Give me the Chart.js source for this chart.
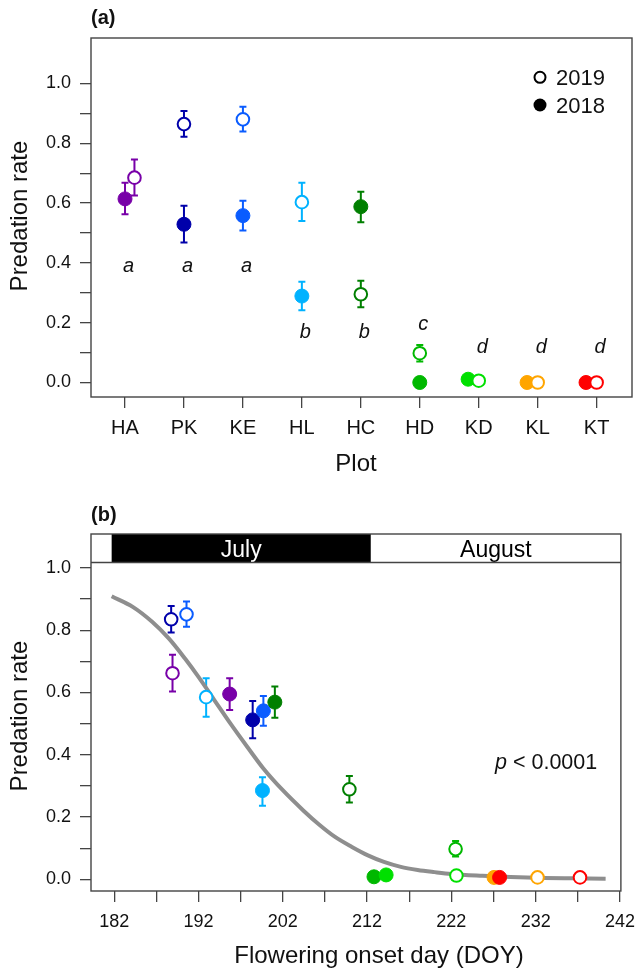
<!DOCTYPE html>
<html><head><meta charset="utf-8">
<script src="https://cdn.jsdelivr.net/npm/chart.js@4/dist/chart.umd.min.js"></script>
<style>
html,body{margin:0;padding:0;background:#fff;}
#wrap{position:relative;width:644px;height:970px;overflow:hidden;background:#fff;}
canvas{position:absolute;left:0;}
</style></head><body>
<div id="wrap">
<canvas id="chartA" width="644" height="490" style="top:0px"></canvas>
<canvas id="chartB" width="644" height="480" style="top:490px"></canvas>
</div>
<script>
// ---------- DATA ----------
const plots = ['HA','PK','KE','HL','HC','HD','KD','KL','KT'];
const plotColors = ['#7800A8','#0000AA','#0A5CFF','#00B2FF','#007F00','#00B800','#00E000','#FFA500','#FF0000'];

// Panel (a): predation rate per plot
const rate2018 = [0.614,0.529,0.558,0.289,0.588,0.000,0.011,0.000,0.000];
const lo2018   = [0.563,0.468,0.508,0.242,0.536,null,null,null,null];
const hi2018   = [0.668,0.591,0.608,0.337,0.638,null,null,null,null];
const rate2019 = [0.685,0.864,0.880,0.603,0.295,0.098,0.006,0.000,0.000];
const lo2019   = [0.625,0.822,0.839,0.540,0.252,0.070,null,null,null];
const hi2019   = [0.746,0.908,0.922,0.668,0.340,0.125,null,null,null];
const sigLetters = ['a','a','a','b','b','c','d','d','d'];
const sigLetterY = [0.368,0.368,0.368,0.148,0.148,0.177,0.098,0.098,0.098];

// Panel (b): predation rate vs flowering onset day
const onset2018 = [195.7,198.43,199.7,199.59,201.06,212.82,214.26,227.06,227.72];
const rateB2018 = [0.595,0.512,0.541,0.285,0.569,0.008,0.014,0.006,0.006];
const loB2018   = [0.544,0.453,0.493,0.236,0.519,null,null,null,null];
const hiB2018   = [0.646,0.573,0.589,0.328,0.619,null,null,null,null];
const onset2019 = [188.92,188.76,190.58,192.91,209.9,222.5,222.6,232.22,237.26];
const rateB2019 = [0.662,0.835,0.851,0.585,0.289,0.097,0.012,0.006,0.006];
const loB2019   = [0.603,0.793,0.811,0.522,0.247,0.073,null,null,null];
const hiB2019   = [0.721,0.878,0.892,0.646,0.332,0.123,null,null,null];
const fitDOY  = [181.7,184.2,186.5,188.5,190.4,192.0,193.9,195.8,197.8,199.7,202.0,204.4,206.3,208.2,210.2,212.1,214.0,216.0,218.0,220.0,222.0,225.7,229.0,233.0,236.5,240.3];
const fitRate = [0.909,0.875,0.827,0.773,0.709,0.650,0.575,0.500,0.425,0.356,0.286,0.222,0.176,0.136,0.104,0.077,0.056,0.040,0.030,0.023,0.017,0.011,0.007,0.004,0.003,0.002];

const rateTicks = [0,0.1,0.2,0.3,0.4,0.5,0.6,0.7,0.8,0.9,1.0];
const doyTicks = [182,187,192,197,202,207,212,217,222,227,232,237,242];
const months = ['July','August'];
const monthStart = [181.7,212.45];
const monthEnd = [212.45,243.5];

// dodge offsets (category units) for overlapping plots in panel (a)
const dodge2018 = [0,0,0,0,0,0,-0.18,-0.18,-0.18];
const dodge2019 = [0.16,0,0,0,0,0,0,0,0];

// ---------- STYLE ----------
const FONT = "'Liberation Sans', Arial, Helvetica, sans-serif";
const AXC = '#444';
const TXT = '#111';

function rateAxis(min, max){
  return {
    type:'linear', min:min, max:max, position:'left',
    afterBuildTicks: s => { s.ticks = rateTicks.map(v => ({value:v})); },
    afterFit: s => { s.width = 91; },
    ticks:{ callback:(v,i) => (i % 2 === 0 ? Number(v).toFixed(1) : ''), font:{family:FONT,size:18}, color:TXT, padding:9, autoSkip:false },
    grid:{ drawOnChartArea:false, drawTicks:true, tickLength:11, color:AXC, lineWidth:1.3 },
    border:{ display:false }
  };
}

function drawErrorBars(chart, xs, lo, hi){
  const ctx = chart.ctx, xS = chart.scales.x, yS = chart.scales.y;
  ctx.save();
  ctx.lineWidth = 2;
  xs.forEach((xv,i) => {
    if (lo[i] == null) return;
    const px = xS.getPixelForValue(xv);
    const y1 = yS.getPixelForValue(lo[i]), y2 = yS.getPixelForValue(hi[i]);
    ctx.strokeStyle = plotColors[i];
    ctx.beginPath();
    ctx.moveTo(px,y1); ctx.lineTo(px,y2);
    ctx.moveTo(px-3.5,y1); ctx.lineTo(px+3.5,y1);
    ctx.moveTo(px-3.5,y2); ctx.lineTo(px+3.5,y2);
    ctx.stroke();
  });
  ctx.restore();
}

function drawBox(chart){
  const ctx = chart.ctx, a = chart.chartArea;
  ctx.save();
  ctx.strokeStyle = AXC; ctx.lineWidth = 1.4;
  ctx.strokeRect(a.left, a.top, a.right - a.left, a.bottom - a.top);
  ctx.restore();
}

function yTitle(ctx, x, cy){
  ctx.save();
  ctx.translate(x, cy);
  ctx.rotate(-Math.PI/2);
  ctx.font = '24px ' + FONT;
  ctx.fillStyle = TXT; ctx.textAlign = 'center'; ctx.textBaseline = 'alphabetic';
  ctx.fillText('Predation rate', 0, 0);
  ctx.restore();
}

// ---------- PANEL A ----------
const xsA2018 = plots.map((p,i) => i + dodge2018[i]);
const xsA2019 = plots.map((p,i) => i + dodge2019[i]);

const pluginA = {
  id:'panelA',
  beforeDatasetsDraw(chart){
    drawErrorBars(chart, xsA2018, lo2018, hi2018);
    drawErrorBars(chart, xsA2019, lo2019, hi2019);
  },
  afterDatasetsDraw(chart){
    const ctx = chart.ctx, a = chart.chartArea, xS = chart.scales.x, yS = chart.scales.y;
    drawBox(chart);
    // significance letters
    ctx.save();
    ctx.font = 'italic 20px ' + FONT;
    ctx.fillStyle = TXT; ctx.textAlign = 'center'; ctx.textBaseline = 'alphabetic';
    sigLetters.forEach((l,i) => ctx.fillText(l, xS.getPixelForValue(i + 0.06), yS.getPixelForValue(sigLetterY[i])));
    ctx.restore();
    // legend
    ctx.save();
    const lx = a.right - 92;
    ctx.lineWidth = 2; ctx.strokeStyle = '#000'; ctx.fillStyle = '#fff';
    ctx.beginPath(); ctx.arc(lx, 77.3, 5.5, 0, Math.PI*2); ctx.fill(); ctx.stroke();
    ctx.fillStyle = '#000';
    ctx.beginPath(); ctx.arc(lx, 105, 6.5, 0, Math.PI*2); ctx.fill();
    ctx.font = '22px ' + FONT; ctx.fillStyle = TXT; ctx.textAlign = 'left'; ctx.textBaseline = 'alphabetic';
    ctx.fillText('2019', lx + 16, 85);
    ctx.fillText('2018', lx + 16, 113);
    ctx.restore();
  },
  afterDraw(chart){
    const ctx = chart.ctx, a = chart.chartArea;
    ctx.save();
    ctx.font = 'bold 20px ' + FONT; ctx.fillStyle = TXT; ctx.textAlign = 'left'; ctx.textBaseline = 'alphabetic';
    ctx.fillText('(a)', 91, 24);
    ctx.font = '24px ' + FONT; ctx.textAlign = 'center';
    ctx.fillText('Plot', 356, 471);
    ctx.restore();
    yTitle(ctx, 27, 216);
  }
};

new Chart(document.getElementById('chartA'), {
  type:'scatter',
  data:{ datasets:[
    { label:'2019', data: plots.map((p,i) => ({x:xsA2019[i], y:rate2019[i]})), showLine:false,
      pointRadius:6.3, pointBorderWidth:2, pointBackgroundColor:'#fff', pointBorderColor:plotColors },
    { label:'2018', data: plots.map((p,i) => ({x:xsA2018[i], y:rate2018[i]})), showLine:false,
      pointRadius:7, pointBorderWidth:1, pointBackgroundColor:plotColors, pointBorderColor:plotColors }
  ]},
  options:{
    responsive:false, animation:false, devicePixelRatio:1, events:[],
    layout:{ padding:{ left:0, top:38, right:12, bottom:0 } },
    plugins:{ legend:{display:false}, tooltip:{enabled:false} },
    scales:{
      x:{ type:'linear', min:-0.577, max:8.60, position:'bottom',
        afterBuildTicks: s => { s.ticks = plots.map((p,i) => ({value:i})); },
        afterFit: s => { s.height = 93; },
        ticks:{ callback:(v,i) => plots[i], font:{family:FONT,size:20}, color:TXT, padding:8, autoSkip:false, maxRotation:0, minRotation:0 },
        grid:{ drawOnChartArea:false, drawTicks:true, tickLength:11, color:AXC, lineWidth:1.3 },
        border:{ display:false } },
      y: rateAxis(-0.0485, 1.152)
    }
  },
  plugins:[pluginA]
});

// ---------- PANEL B ----------
const pluginB = {
  id:'panelB',
  beforeDatasetsDraw(chart){
    const ctx = chart.ctx, a = chart.chartArea, xS = chart.scales.x;
    // month strip
    const sTop = a.top, sBot = a.top + 28.5;
    ctx.save();
    months.forEach((m,i) => {
      const x1 = Math.max(a.left, xS.getPixelForValue(monthStart[i]));
      const x2 = Math.min(a.right, xS.getPixelForValue(monthEnd[i]));
      ctx.fillStyle = i === 0 ? '#000' : '#fff';
      ctx.fillRect(x1, sTop, x2 - x1, sBot - sTop);
      ctx.font = '23px ' + FONT; ctx.textAlign = 'center'; ctx.textBaseline = 'alphabetic';
      ctx.fillStyle = i === 0 ? '#fff' : '#000';
      ctx.fillText(m, (x1 + x2)/2, sTop + 22.5);
    });
    ctx.strokeStyle = AXC; ctx.lineWidth = 1.4;
    ctx.beginPath(); ctx.moveTo(a.left, sBot); ctx.lineTo(a.right, sBot); ctx.stroke();
    ctx.restore();
    drawErrorBars(chart, onset2018, loB2018, hiB2018);
    drawErrorBars(chart, onset2019, loB2019, hiB2019);
  },
  afterDatasetsDraw(chart){
    drawBox(chart);
    const ctx = chart.ctx;
    ctx.save();
    ctx.fillStyle = TXT; ctx.textBaseline = 'alphabetic'; ctx.textAlign = 'left';
    let x = 495, y = 279;
    ctx.font = 'italic 21.5px ' + FONT;
    ctx.fillText('p', x, y);
    x += ctx.measureText('p').width;
    ctx.font = '21.5px ' + FONT;
    ctx.fillText(' < 0.0001', x, y);
    ctx.restore();
  },
  afterDraw(chart){
    const ctx = chart.ctx;
    ctx.save();
    ctx.font = 'bold 20px ' + FONT; ctx.fillStyle = TXT; ctx.textAlign = 'left'; ctx.textBaseline = 'alphabetic';
    ctx.fillText('(b)', 91, 31);
    ctx.font = '24px ' + FONT; ctx.textAlign = 'center';
    ctx.fillText('Flowering onset day (DOY)', 379, 473);
    ctx.restore();
    yTitle(ctx, 27, 226);
  }
};

new Chart(document.getElementById('chartB'), {
  type:'scatter',
  data:{ datasets:[
    { label:'2019', data: onset2019.map((d,i) => ({x:d, y:rateB2019[i]})), showLine:false,
      pointRadius:6.3, pointBorderWidth:2, pointBackgroundColor:'#fff', pointBorderColor:plotColors },
    { label:'2018', data: onset2018.map((d,i) => ({x:d, y:rateB2018[i]})), showLine:false,
      pointRadius:7, pointBorderWidth:1, pointBackgroundColor:plotColors, pointBorderColor:plotColors },
    { label:'fit', data: fitDOY.map((d,i) => ({x:d, y:fitRate[i]})), showLine:true, pointRadius:0,
      borderColor:'#8E8E8E', borderWidth:4, cubicInterpolationMode:'monotone', fill:false }
  ]},
  options:{
    responsive:false, animation:false, devicePixelRatio:1, events:[],
    layout:{ padding:{ left:0, top:44, right:13, bottom:0 } },
    plugins:{ legend:{display:false}, tooltip:{enabled:false} },
    scales:{
      x:{ type:'linear', min:179.25, max:242.11, position:'bottom',
        afterBuildTicks: s => { s.ticks = doyTicks.map(v => ({value:v})); },
        afterFit: s => { s.height = 79; },
        ticks:{ callback:(v) => ((v - 182) % 10 === 0 ? String(v) : ''), font:{family:FONT,size:18}, color:TXT, padding:9, autoSkip:false, maxRotation:0, minRotation:0 },
        grid:{ drawOnChartArea:false, drawTicks:true, tickLength:11, color:AXC, lineWidth:1.3 },
        border:{ display:false } },
      y: rateAxis(-0.0376, 1.109)
    }
  },
  plugins:[pluginB]
});
</script>
</body></html>
